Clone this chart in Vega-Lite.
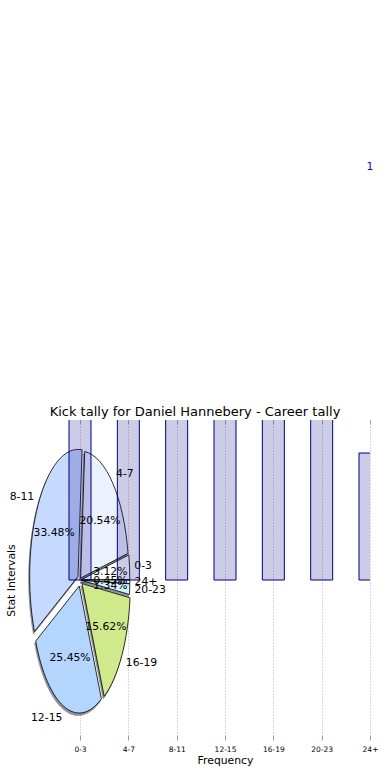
{
  "$schema": "https://vega.github.io/schema/vega-lite/v6.json",
  "autosize": {"type": "none"},
  "padding": {"left": 19, "top": 420, "right": 20, "bottom": 40},
  "width": 351,
  "height": 320,
  "data": {"values": [
    {"interval": "0-3", "freq": 7, "pct": "3.12%"},
    {"interval": "4-7", "freq": 46, "pct": "20.54%"},
    {"interval": "8-11", "freq": 75, "pct": "33.48%"},
    {"interval": "12-15", "freq": 57, "pct": "25.45%"},
    {"interval": "16-19", "freq": 35, "pct": "15.62%"},
    {"interval": "20-23", "freq": 3, "pct": "1.34%"},
    {"interval": "24+", "freq": 1, "pct": "0.45%"}
  ]},
  "transform": [
    {"joinaggregate": [{"op": "sum", "field": "freq", "as": "total"}]},
    {"window": [{"op": "sum", "field": "freq", "as": "cum"}], "frame": [null, 0]},
    {"calculate": "2*PI*(datum.cum-datum.freq)/datum.total", "as": "a0"},
    {"calculate": "2*PI*datum.cum/datum.total", "as": "a1"},
    {"calculate": "(datum.a0+datum.a1)/2", "as": "am"},
    {"calculate": "datum.interval === '4-7' ? 0.02 : (datum.interval === '0-3' || datum.interval === '20-23' || datum.interval === '24+' ? 0.03 : 0.05)", "as": "ex"},
    {"calculate": "round(4835*datum.ex*cos(datum.am))/100", "as": "cx"},
    {"calculate": "round(-12700*datum.ex*sin(datum.am))/100", "as": "cy"},
    {"calculate": "round(100*datum.cx + 4835*cos(datum.a0))/100", "as": "x0"},
    {"calculate": "round(100*datum.cy - 12700*sin(datum.a0))/100", "as": "y0"},
    {"calculate": "round(100*datum.cx + 4835*cos(datum.a1))/100", "as": "x1"},
    {"calculate": "round(100*datum.cy - 12700*sin(datum.a1))/100", "as": "y1"},
    {"calculate": "'M' + datum.cx + ',' + datum.cy + 'L' + datum.x0 + ',' + datum.y0 + 'A48.35,127 0 ' + (datum.a1 - datum.a0 > PI ? 1 : 0) + ',0 ' + datum.x1 + ',' + datum.y1 + 'Z'", "as": "path"},
    {"calculate": "(datum.ex + 1.1)*cos(datum.am)", "as": "lx"},
    {"calculate": "(datum.ex + 1.1)*sin(datum.am)", "as": "ly"},
    {"calculate": "(datum.ex + 0.6)*cos(datum.am)", "as": "px"},
    {"calculate": "(datum.ex + 0.6)*sin(datum.am)", "as": "py"}
  ],
  "resolve": {"scale": {"x": "independent"}, "axis": {"y": "independent"}},
  "layer": [
    {
      "mark": {"type": "point", "filled": true, "size": 4, "opacity": 0.55, "fill": "#353a44", "stroke": "#353a44", "strokeWidth": 0.8, "xOffset": -1, "yOffset": 2.5},
      "encoding": {
        "x": {"datum": 0, "type": "quantitative", "scale": {"domain": [-1.262, 6], "nice": false, "zero": false}, "axis": null},
        "y": {"datum": 0, "type": "quantitative", "scale": {"domain": [-1.26, 1.26], "nice": false, "zero": false}, "axis": null},
        "shape": {"field": "path", "type": "nominal", "scale": null},
        "detail": {"field": "interval"}
      }
    },
    {
      "mark": {"type": "point", "filled": true, "size": 4, "opacity": 1, "stroke": "#000000", "strokeWidth": 0.8},
      "encoding": {
        "x": {"datum": 0, "type": "quantitative", "scale": {"domain": [-1.262, 6], "nice": false, "zero": false}, "axis": null},
        "y": {"datum": 0, "type": "quantitative", "scale": {"domain": [-1.26, 1.26], "nice": false, "zero": false}, "axis": null},
        "shape": {"field": "path", "type": "nominal", "scale": null},
        "color": {"field": "interval", "type": "nominal", "legend": null,
          "scale": {"domain": ["0-3", "4-7", "8-11", "12-15", "16-19", "20-23", "24+"],
                    "range": ["#ffffff", "#ebf1ff", "#c6d9ff", "#b4d5fe", "#d0e98b", "#cff5fd", "#eef6ff"]}}
      }
    },
    {
      "mark": {"type": "bar", "width": 22, "clip": true, "fill": "#000080", "fillOpacity": 0.2, "stroke": "#000080", "strokeWidth": 1},
      "encoding": {
        "x": {"field": "interval", "type": "nominal", "sort": null,
          "scale": {"type": "point", "range": [61, 351], "padding": 0},
          "axis": {"orient": "bottom", "title": "Frequency", "labelAngle": 0, "domain": false,
            "grid": true, "gridColor": "#bdbdbd", "gridDash": [1.2, 1.8], "gridWidth": 1,
            "ticks": true, "tickColor": "#a0a0a0", "tickSize": -5, "tickWidth": 1,
            "labelFont": "DejaVu Sans", "labelFontSize": 7.5, "labelColor": "#000000", "labelPadding": 10,
            "titleFont": "DejaVu Sans", "titleFontSize": 10.8, "titleFontWeight": "normal", "titleColor": "#000000", "titlePadding": 2}},
        "y": {"field": "freq", "type": "quantitative",
          "scale": {"domain": [-1.26, 1.26], "nice": false, "zero": false},
          "axis": {"title": "Stat Intervals", "labels": false, "ticks": false, "domain": false, "grid": false,
            "titleFont": "DejaVu Sans", "titleFontSize": 10.8, "titleFontWeight": "normal", "titleColor": "#000000", "titlePadding": 3}}
      }
    },
    {
      "transform": [{"filter": "datum.interval === '24+'"}],
      "mark": {"type": "text", "dy": -286, "font": "DejaVu Sans", "fontSize": 10.8, "color": "#101098"},
      "encoding": {
        "x": {"field": "interval", "type": "nominal", "sort": null,
          "scale": {"type": "point", "domain": ["0-3", "4-7", "8-11", "12-15", "16-19", "20-23", "24+"], "range": [61, 351], "padding": 0},
          "axis": {"orient": "top", "title": "Kick tally for Daniel Hannebery - Career tally", "labels": false, "domain": false, "grid": false,
            "ticks": true, "tickColor": "#a0a0a0", "tickSize": -4, "tickWidth": 1,
            "titleFont": "DejaVu Sans", "titleFontSize": 13, "titleFontWeight": "normal", "titleColor": "#000000", "titlePadding": 1,
            "titleX": 175.5, "titleAlign": "center", "titleAnchor": "middle"}},
        "y": {"field": "freq", "type": "quantitative", "scale": {"domain": [-1.26, 1.26], "nice": false, "zero": false}, "axis": null},
        "text": {"field": "freq", "type": "quantitative"}
      }
    },
    {
      "mark": {"type": "text", "font": "DejaVu Sans", "fontSize": 10.8, "color": "#000000", "align": "center", "baseline": "middle"},
      "encoding": {
        "x": {"field": "px", "type": "quantitative", "scale": {"domain": [-1.262, 6], "nice": false, "zero": false}, "axis": null},
        "y": {"field": "py", "type": "quantitative", "scale": {"domain": [-1.26, 1.26], "nice": false, "zero": false}, "axis": null},
        "text": {"field": "pct", "type": "nominal"}
      }
    },
    {
      "transform": [{"filter": "datum.lx > 0"}],
      "mark": {"type": "text", "font": "DejaVu Sans", "fontSize": 10.8, "color": "#000000", "align": "left", "baseline": "middle"},
      "encoding": {
        "x": {"field": "lx", "type": "quantitative", "scale": {"domain": [-1.262, 6], "nice": false, "zero": false}, "axis": null},
        "y": {"field": "ly", "type": "quantitative", "scale": {"domain": [-1.26, 1.26], "nice": false, "zero": false}, "axis": null},
        "text": {"field": "interval", "type": "nominal"}
      }
    },
    {
      "transform": [{"filter": "datum.lx <= 0"}],
      "mark": {"type": "text", "font": "DejaVu Sans", "fontSize": 10.8, "color": "#000000", "align": "right", "baseline": "middle"},
      "encoding": {
        "x": {"field": "lx", "type": "quantitative", "scale": {"domain": [-1.262, 6], "nice": false, "zero": false}, "axis": null},
        "y": {"field": "ly", "type": "quantitative", "scale": {"domain": [-1.26, 1.26], "nice": false, "zero": false}, "axis": null},
        "text": {"field": "interval", "type": "nominal"}
      }
    }
  ],
  "config": {"view": {"stroke": null}, "font": "DejaVu Sans"}
}
